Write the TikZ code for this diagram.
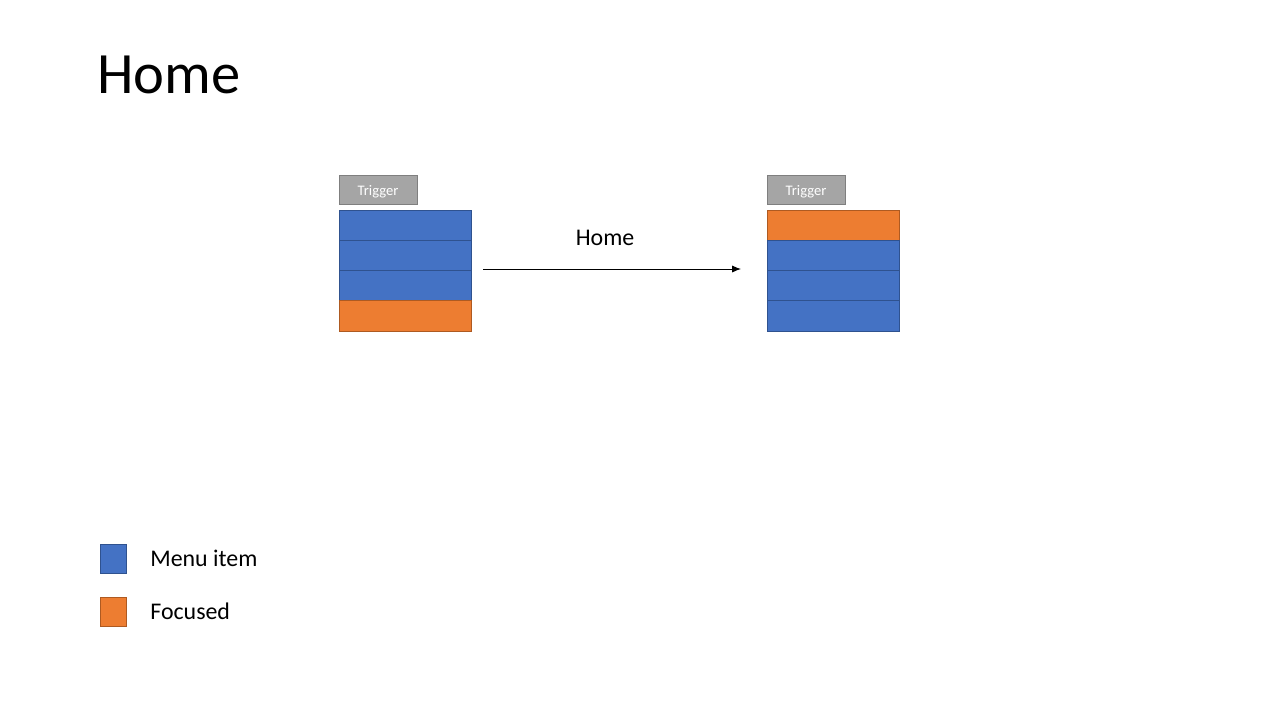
\documentclass[tikz,border=0pt]{standalone}
\usepackage{fontspec}
\setmainfont{Carlito}
\usetikzlibrary{arrows.meta}
\definecolor{itemblue}{HTML}{4472C4}
\definecolor{itemedge}{HTML}{2F528F}
\definecolor{focusorange}{HTML}{ED7D31}
\definecolor{focusedge}{HTML}{AE5A21}
\definecolor{triggergray}{HTML}{A5A5A5}
\definecolor{triggeredge}{HTML}{7F7F7F}
\begin{document}
\begin{tikzpicture}[x=0.02cm, y=-0.02cm,
					menuitem/.style = {draw=itemedge, fill=itemblue, line width=0.45pt, inner sep=0, outer sep=0,
						minimum width=2.64cm, minimum height=0.605cm, anchor=north west},
					focused/.style = {menuitem, draw=focusedge, fill=focusorange},
					trigger/.style = {draw=triggeredge, fill=triggergray, line width=0.45pt, inner sep=0, outer sep=0,
						minimum width=1.56cm, minimum height=0.58cm, anchor=north west, text=white,
						text height=8pt, text depth=1.2pt,
						font=\fontsize{8.3}{10}\selectfont},
					swatch/.style = {menuitem, minimum width=0.52cm, minimum height=0.58cm},
					legendtext/.style = {anchor=west, inner sep=0, font=\fontsize{13.6}{16}\selectfont}
				]
				\useasboundingbox (0,0) rectangle (1280,720);
				\node[anchor=base west, inner sep=0, font=\fontsize{33.3}{40}\selectfont] (title) at (97,93) {Home};
				% before
				\node[trigger] (triggerbefore) at (339,175) {Trigger};
				\foreach \s [count=\i] in {menuitem,menuitem,menuitem,focused}
					\node[\s] (before\i) at (339, {210+30.25*(\i-1)}) {};
				% after
				\node[trigger] (triggerafter) at (767,175) {Trigger};
				\foreach \s [count=\i] in {focused,menuitem,menuitem,menuitem}
					\node[\s] (after\i) at (767, {210+30.25*(\i-1)}) {};
				% key press
				\coordinate (keystart) at (483,269);
				\coordinate (keyend) at (741,269);
				\draw[-{Latex[length=5pt, width=4pt]}, line width=0.5pt] (keystart) -- (keyend);
				\node[legendtext, anchor=center] (keylabel) at (605,238) {Home};
				% legend
				\node[swatch] (swatchitem) at (100,544) {};
				\node[swatch, draw=focusedge, fill=focusorange] (swatchfocus) at (100,597) {};
				\node[legendtext] (textitem) at (150,558) {Menu item};
				\node[legendtext] (textfocus) at (150,611) {Focused};
			\end{tikzpicture}
\end{document}
